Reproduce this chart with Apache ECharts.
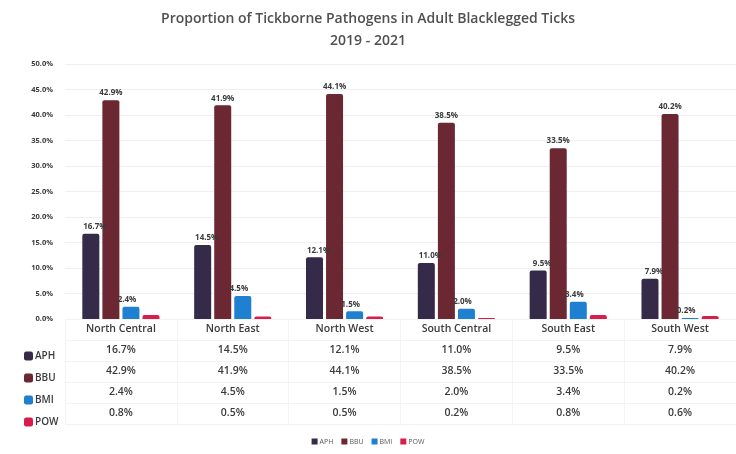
<!DOCTYPE html>
<html><head><meta charset="utf-8">
<script src="https://cdn.jsdelivr.net/npm/echarts@6/dist/echarts.min.js"></script>
<style>html,body{margin:0;padding:0;background:#fff}#c{width:736px;height:454px}</style>
</head><body><div id="c"></div>
<script>
const categories = ['North Central','North East','North West','South Central','South East','South West'];
const APH = [16.7, 14.5, 12.1, 11.0, 9.5, 7.9];
const BBU = [42.9, 41.9, 44.1, 38.5, 33.5, 40.2];
const BMI = [2.4, 4.5, 1.5, 2.0, 3.4, 0.2];
const POW = [0.8, 0.5, 0.5, 0.2, 0.8, 0.6];
const seriesNames = ['APH','BBU','BMI','POW'];
const colors = ['#352a48','#6b2732','#1f7fd1','#d81d4b'];
const titleText = 'Proportion of Tickborne Pathogens in Adult Blacklegged Ticks\n2019 - 2021';

const fmt = v => v.toFixed(1) + '%';
const all = [APH, BBU, BMI, POW];
const font = 'Open Sans';
const txt = '#3a3a3a';

const labelCfg = (offsetX, show) => ({
  show: show, position: 'top', distance: 3, offset: [offsetX, 0],
  formatter: p => fmt(p.value), fontSize: 8, fontWeight: 'bold', color: txt, fontFamily: font
});

const chart = echarts.init(document.getElementById('c'), null, {renderer: 'canvas'});
chart.setOption({
  animation: false,
  color: colors,
  textStyle: {fontFamily: font},
  title: {
    text: titleText, left: 'center', top: 3,
    textStyle: {fontSize: 14, fontWeight: 600, color: '#505050', lineHeight: 22, fontFamily: font}
  },
  legend: [
    {
      data: seriesNames, orient: 'vertical', left: 19, top: 346,
      itemWidth: 9, itemHeight: 9, itemGap: 12, icon: 'roundRect',
      textStyle: {fontSize: 10, fontWeight: 600, color: txt, fontFamily: font, padding: [0,0,0,-3]}
    },
    {
      data: seriesNames, orient: 'horizontal', left: 'center', top: 433,
      itemWidth: 6, itemHeight: 6, itemGap: 8, icon: 'rect',
      textStyle: {fontSize: 7, color: '#595959', fontFamily: font, padding: [0,0,0,-3]}
    }
  ],
  grid: [
    {left: 65, top: 64, width: 673, height: 255},
    {left: 65, top: 319, width: 673, height: 105}
  ],
  xAxis: [
    {
      type: 'category', data: categories, gridIndex: 0,
      axisLine: {show: false}, axisTick: {show: false},
      axisLabel: {
        margin: 0, interval: 0,
        formatter: (value, idx) => [
          '{c|' + value + '}',
          '{v|' + fmt(APH[idx]) + '}',
          '{v|' + fmt(BBU[idx]) + '}',
          '{v|' + fmt(BMI[idx]) + '}',
          '{v|' + fmt(POW[idx]) + '}'
        ].join('\n'),
        rich: {
          c: {fontSize: 10.5, color: txt, fontFamily: font, lineHeight: 21, fontWeight: 600},
          v: {fontSize: 10.5, color: txt, fontFamily: font, lineHeight: 21, fontWeight: 600}
        }
      }
    },
    {
      type: 'category', data: categories, gridIndex: 1,
      axisLine: {show: false}, axisTick: {show: false}, axisLabel: {show: false},
      splitLine: {show: true, interval: 0, lineStyle: {color: '#f3f3f3', width: 1}}
    }
  ],
  yAxis: [
    {
      type: 'value', gridIndex: 0, min: 0, max: 50, interval: 5,
      axisLine: {show: false}, axisTick: {show: false},
      axisLabel: {formatter: v => v.toFixed(1) + '%', fontSize: 7.5, fontWeight: 'bold', color: txt, margin: 12, fontFamily: font},
      splitLine: {lineStyle: {color: '#efefef', width: 1}}
    },
    {
      type: 'value', gridIndex: 1, min: 0, max: 5, interval: 1, inverse: true,
      axisLine: {show: false}, axisTick: {show: false}, axisLabel: {show: false},
      splitLine: {show: true, lineStyle: {color: '#f3f3f3', width: 1}}
    }
  ],
  series: seriesNames.map((name, i) => ({
    name: name, type: 'bar', xAxisIndex: 0, yAxisIndex: 0,
    data: all[i], barWidth: 17, barGap: '18%',
    itemStyle: {color: colors[i], borderRadius: [2,2,0,0]},
    label: labelCfg(i === 0 ? 4 : (i === 2 ? -4 : 0), i !== 3)
  }))
});
</script></body></html>
